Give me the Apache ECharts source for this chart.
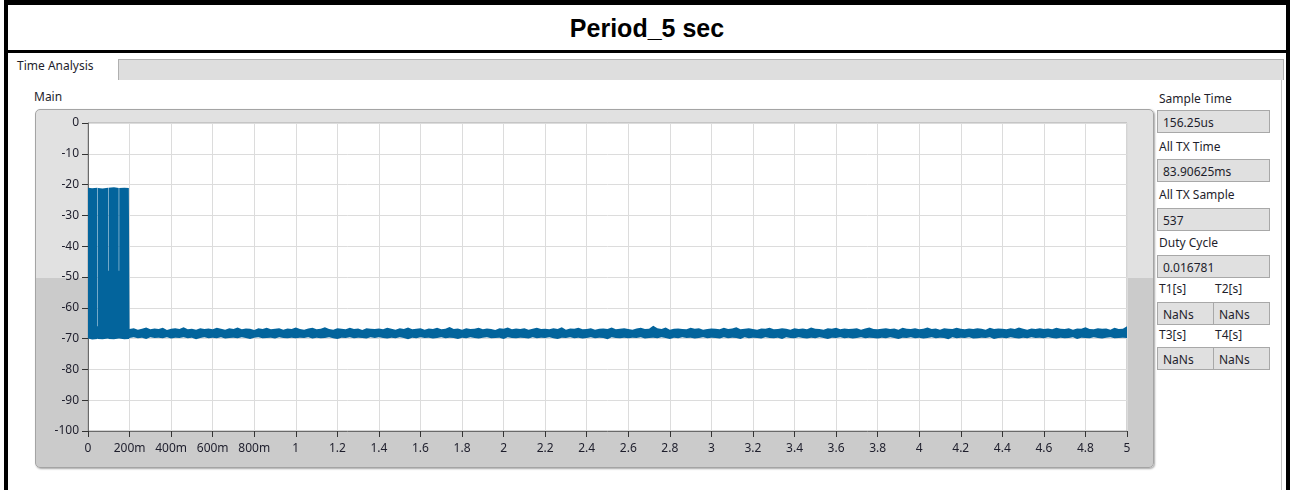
<!DOCTYPE html>
<html>
<head>
<meta charset="utf-8">
<title>Period_5 sec</title>
<script src="https://cdn.jsdelivr.net/npm/echarts@6.0.0/dist/echarts.min.js"></script>
<style>
  html, body { margin: 0; padding: 0; background: #fff; }
  body { width: 1292px; height: 490px; position: relative; overflow: hidden;
         font-family: 'Noto Sans', 'Open Sans', sans-serif; font-size: 12px; color: #1e1e2c; }
  .outer { position: absolute; left: 4px; top: 0; width: 1278px; height: 490px;
           border-left: 4px solid #000; border-right: 4px solid #000; border-top: 5px solid #000; }
  .title-line { position: absolute; left: 4px; top: 50px; width: 1286px; height: 3px; background: #000; }
  .title { position: absolute; left: 8px; top: 5px; width: 1278px; height: 45px;
           font: bold 25px 'Liberation Sans', Arial, sans-serif; line-height: 46px;
           text-align: center; color: #000; }
  .tabbar { position: absolute; left: 118px; top: 59px; width: 1164px; height: 20px;
            background: #dedede; border: 1px solid #b0b0b0; border-bottom: none; }
  .panel-line { position: absolute; left: 1281px; top: 80px; width: 1px; height: 410px; background: #c4c4c4; }
  .frame { position: absolute; left: 35px; top: 109px; width: 1117px; height: 357px;
           border: 1px solid #a4a4a4; border-radius: 5px;
           box-shadow: 1px 1px 2px rgba(0,0,0,0.35);
           background: linear-gradient(to bottom, #e1e1e1 0, #e1e1e1 168px, #cbcbcb 168px, #cbcbcb 100%); }
  #chart { position: absolute; left: 35px; top: 109px; width: 1119px; height: 359px; }
  .lbl { position: absolute; height: 16px; line-height: 16px; white-space: nowrap; }
  .field { position: absolute; height: 23px; line-height: 23px; box-sizing: border-box;
           background: #e0e0e0; border: 1px solid #a8a8a8; padding-left: 5px; }
</style>
</head>
<body>
<div class="outer"></div>
<div class="title-line"></div>
<div class="title">Period_5 sec</div>

<div class="lbl" style="left:17px; top:58px;">Time Analysis</div>
<div class="tabbar"></div>
<div class="panel-line"></div>

<div class="lbl" style="left:34px; top:89px;">Main</div>
<div class="frame"></div>
<div id="chart"></div>

<div class="lbl" style="left:1159px; top:91px;">Sample Time</div>
<div class="field" style="left:1157px; top:110px; width:113px;">156.25us</div>
<div class="lbl" style="left:1159px; top:139px;">All TX Time</div>
<div class="field" style="left:1157px; top:159px; width:113px;">83.90625ms</div>
<div class="lbl" style="left:1159px; top:187px;">All TX Sample</div>
<div class="field" style="left:1157px; top:208px; width:113px;">537</div>
<div class="lbl" style="left:1159px; top:235px;">Duty Cycle</div>
<div class="field" style="left:1157px; top:255px; width:113px;">0.016781</div>
<div class="lbl" style="left:1159px; top:281px;">T1[s]</div>
<div class="lbl" style="left:1215px; top:281px;">T2[s]</div>
<div class="field" style="left:1157px; top:302px; width:57px;">NaNs</div>
<div class="field" style="left:1213px; top:302px; width:57px;">NaNs</div>
<div class="lbl" style="left:1159px; top:327px;">T3[s]</div>
<div class="lbl" style="left:1215px; top:327px;">T4[s]</div>
<div class="field" style="left:1157px; top:347px; width:57px;">NaNs</div>
<div class="field" style="left:1213px; top:347px; width:57px;">NaNs</div>

<script>
// burst section (0 .. ~0.2 s): time, upper envelope, lower envelope
const BURST_T  = [0, 0.020, 0.0455, 0.0456, 0.0477, 0.0478, 0.070, 0.0965, 0.0966, 0.0987, 0.0988, 0.125, 0.1479, 0.1480, 0.1501, 0.1502, 0.175, 0.1965]
const BURST_HI = [-21.0, -21.2, -21.0, -66.0, -66.0, -21.1, -21.3, -21.0, -48.0, -48.0, -21.0, -20.9, -21.1, -48.0, -48.0, -21.1, -21.0, -21.1]
const BURST_LO = [-70.0, -70.3, -70.1, -70.0, -70.0, -70.1, -70.2, -70.0, -70.0, -70.0, -70.1, -70.2, -70.0, -70.0, -70.0, -70.0, -70.2, -70.1]

// noise floor (0.2 .. 5 s), one envelope reading every 20 ms
const NOISE_T0 = 0.2
const NOISE_DT = 0.02
const NOISE_HI = [
  -66.9,-66.6,-67.1,-66.8,-66.4,-67.0,-66.7,-66.9,-66.5,-67.2,-66.8,-66.6,-66.9,-66.3,-67.0,-66.8,-67.1,-66.6,-66.9,-66.7,
  -67.0,-66.5,-66.8,-67.1,-66.6,-66.9,-66.4,-67.0,-66.7,-66.8,-67.2,-66.6,-66.9,-66.5,-67.0,-66.8,-66.6,-67.1,-66.7,-66.9,
  -66.4,-66.9,-67.1,-66.7,-66.5,-67.0,-66.8,-66.3,-66.9,-67.1,-66.6,-66.8,-67.0,-66.5,-66.9,-66.7,-67.2,-66.6,-66.8,-66.9,
  -66.7,-67.0,-66.5,-66.8,-67.1,-66.6,-66.9,-66.4,-67.0,-66.8,-66.6,-67.1,-66.7,-66.9,-66.5,-67.0,-66.8,-66.2,-66.9,-66.7,
  -67.1,-66.6,-66.9,-66.8,-66.5,-67.0,-66.7,-66.9,-67.2,-66.6,-66.8,-66.4,-67.0,-66.7,-66.9,-66.6,-67.1,-66.8,-66.5,-66.9,
  -66.8,-67.0,-66.6,-66.9,-66.3,-67.1,-66.7,-66.8,-66.5,-67.0,-66.9,-66.6,-67.1,-66.8,-66.7,-66.9,-66.4,-67.0,-66.8,-66.6,
  -66.9,-67.1,-66.7,-66.5,-66.9,-66.8,-65.8,-66.6,-66.9,-66.4,-67.1,-66.8,-66.7,-66.9,-67.0,-66.5,-66.8,-66.6,-67.1,-66.9,
  -66.7,-66.8,-67.0,-66.5,-66.9,-66.7,-66.3,-67.0,-66.8,-66.6,-66.9,-67.1,-66.7,-66.8,-66.5,-67.0,-66.9,-66.6,-66.8,-67.1,
  -66.6,-66.9,-66.7,-67.0,-66.4,-66.8,-66.9,-67.1,-66.6,-66.8,-66.5,-67.0,-66.7,-66.9,-66.8,-66.6,-67.1,-66.7,-66.4,-66.9,
  -67.0,-66.8,-66.6,-66.9,-66.7,-67.1,-66.5,-66.8,-66.9,-66.6,-67.0,-66.8,-66.4,-66.9,-66.7,-67.1,-66.6,-66.8,-66.9,-66.5,
  -66.8,-67.0,-66.7,-66.9,-66.6,-66.8,-67.1,-66.5,-66.9,-66.7,-66.8,-67.0,-66.6,-66.9,-66.4,-66.8,-67.1,-66.7,-66.9,-66.6,
  -66.9,-66.7,-67.0,-66.5,-66.8,-66.9,-66.6,-67.1,-66.7,-66.8,-66.3,-66.9,-67.0,-66.6,-66.8,-66.7,-67.1,-66.5,-66.9,-66.8,
  -66.0
]
const NOISE_LO = [
  -69.8,-69.6,-69.9,-69.7,-70.1,-69.6,-69.8,-69.7,-69.9,-69.6,-70.0,-69.7,-69.8,-69.6,-69.9,-69.7,-70.2,-69.8,-69.6,-69.9,
  -69.7,-69.9,-69.6,-70.0,-69.8,-69.7,-69.9,-69.6,-69.8,-70.1,-69.7,-69.6,-69.9,-69.8,-69.7,-70.0,-69.6,-69.8,-69.9,-69.7,
  -69.9,-69.7,-69.8,-69.6,-70.0,-69.7,-69.9,-69.8,-69.6,-69.9,-70.1,-69.7,-69.8,-69.6,-69.9,-69.7,-69.8,-70.0,-69.6,-69.8,
  -69.6,-69.8,-70.0,-69.7,-69.9,-69.6,-69.8,-70.2,-69.7,-69.9,-69.6,-69.8,-69.7,-70.0,-69.8,-69.6,-69.9,-69.7,-69.8,-70.1,
  -69.7,-69.9,-69.6,-69.8,-70.0,-69.7,-69.6,-69.9,-69.8,-69.7,-70.1,-69.6,-69.8,-69.9,-69.7,-69.8,-70.0,-69.6,-69.9,-69.7,
  -69.8,-69.6,-69.9,-70.1,-69.7,-69.8,-69.6,-69.9,-69.7,-70.0,-69.8,-69.6,-69.9,-69.7,-69.8,-70.2,-69.6,-69.8,-69.9,-69.7,
  -69.9,-69.7,-69.8,-69.6,-70.0,-69.8,-69.7,-69.9,-69.6,-69.8,-70.1,-69.7,-69.9,-69.6,-69.8,-69.7,-70.0,-69.8,-69.6,-69.9,
  -69.7,-69.8,-70.0,-69.6,-69.9,-69.7,-69.8,-70.1,-69.6,-69.9,-69.7,-69.8,-70.0,-69.6,-69.8,-69.9,-69.7,-70.1,-69.6,-69.8,
  -69.9,-69.6,-69.8,-70.0,-69.7,-69.9,-69.6,-69.8,-70.1,-69.7,-69.8,-69.6,-69.9,-69.7,-70.0,-69.8,-69.6,-69.9,-69.7,-69.8,
  -70.0,-69.7,-69.9,-69.6,-69.8,-70.1,-69.7,-69.8,-69.6,-69.9,-69.7,-70.0,-69.8,-69.6,-69.9,-69.7,-69.8,-70.2,-69.6,-69.9,
  -69.7,-69.8,-69.6,-70.0,-69.9,-69.7,-69.8,-69.6,-70.1,-69.8,-69.7,-69.9,-69.6,-69.8,-70.0,-69.7,-69.9,-69.6,-69.8,-69.7,
  -69.9,-69.6,-69.8,-70.0,-69.7,-69.9,-69.8,-69.6,-70.1,-69.7,-69.8,-69.9,-69.6,-69.8,-70.0,-69.7,-69.6,-69.9,-69.8,-69.7,
  -69.8
]

const X_MIN = 0, X_MAX = 5, X_STEP = 0.2
const Y_MIN = -100, Y_MAX = 0, Y_STEP = 10

const BLUE = '#03649c'
const TXT = '#1e1e2c'
const FONT = "'Noto Sans', 'Open Sans', sans-serif"

// join burst + noise floor into one envelope
const times = BURST_T.concat(NOISE_HI.map((_, i) => +(NOISE_T0 + i * NOISE_DT).toFixed(4)))
const hi = BURST_HI.concat(NOISE_HI)
const lo = BURST_LO.concat(NOISE_LO)

const chart = echarts.init(document.getElementById('chart'), null, { renderer: 'canvas' })

function xLabel(v) {
  if (Math.abs(v) < 1e-9) return '0'
  if (v < 1 - 1e-9) return Math.round(v * 1000) + 'm'
  return String(Math.round(v * 10) / 10)
}

// whole envelope as one polygon (upper edge forward, lower edge back)
function renderEnvelope(params, api) {
  if (params.dataIndex !== 0) return null
  const pts = []
  for (let i = 0; i < times.length; i++) pts.push(api.coord([times[i], hi[i]]))
  for (let i = times.length - 1; i >= 0; i--) pts.push(api.coord([times[i], lo[i]]))
  return {
    type: 'polygon',
    shape: { points: pts },
    style: { fill: BLUE, stroke: null },
  }
}

chart.setOption({
  backgroundColor: 'transparent',
  animation: false,
  grid: {
    left: 53, top: 14, width: 1039, height: 308,
    show: true, backgroundColor: '#ffffff', borderColor: '#a8a8a8', borderWidth: 1,
  },
  xAxis: {
    type: 'value',
    min: X_MIN, max: X_MAX, interval: X_STEP,
    axisLine: { show: true, onZero: false, lineStyle: { color: '#6a6a6a', width: 1 } },
    axisTick: { show: true, length: 6, lineStyle: { color: '#333' } },
    axisLabel: { color: TXT, fontFamily: FONT, fontSize: 12, margin: 12, formatter: xLabel, showMinLabel: true, showMaxLabel: true },
    splitLine: { show: true, lineStyle: { color: '#dcdcdc', width: 1 } },
  },
  yAxis: {
    type: 'value',
    min: Y_MIN, max: Y_MAX, interval: Y_STEP,
    axisLine: { show: true, lineStyle: { color: '#6a6a6a', width: 1 } },
    axisTick: { show: true, length: 6, lineStyle: { color: '#333' } },
    axisLabel: { color: TXT, fontFamily: FONT, fontSize: 12, margin: 9 },
    splitLine: { show: true, lineStyle: { color: '#dcdcdc', width: 1 } },
  },
  series: [
    {
      type: 'custom',
      clip: true,
      silent: true,
      data: times.map((t, i) => [t, hi[i], lo[i]]),
      encode: { x: 0, y: [1, 2] },
      renderItem: renderEnvelope,
    },
  ],
})
</script>
</body>
</html>
